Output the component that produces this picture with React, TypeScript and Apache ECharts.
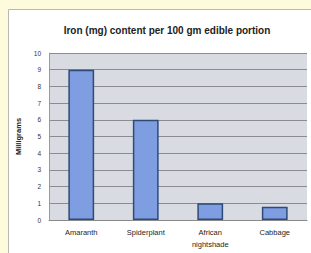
import React, { useEffect, useRef } from "react";
import * as echarts from "echarts";

const categories = ["Amaranth", "Spiderplant", "African\nnightshade", "Cabbage"];
const ironValues = [9.0, 6.0, 1.0, 0.8];
const titleText = "Iron (mg) content per 100 gm edible portion";
const yAxisName = "Milligrams";

export default function App() {
  const ref = useRef<HTMLDivElement>(null);
  useEffect(() => {
    if (!ref.current) return;
    const chart = echarts.init(ref.current, null, { renderer: "svg" });
    chart.setOption({
      animation: false,
      backgroundColor: "#fdfbdc",
      graphic: [
        {
          type: "rect",
          z: -10,
          shape: { x: 8.5, y: 9.5, width: 310, height: 250 },
          style: { fill: "#ffffff", stroke: "#b8b8b8", lineWidth: 1 },
        },
      ],
      title: {
        text: titleText,
        left: 162,
        textAlign: "center",
        top: 20,
        textStyle: { fontFamily: "Liberation Sans", fontSize: 10, fontWeight: "bold", color: "#222" },
      },
      grid: { left: 49, right: 4, top: 53, bottom: 33, show: true, backgroundColor: "#d9dbe3", borderWidth: 0 },
      xAxis: {
        type: "category",
        data: categories,
        axisTick: { show: false },
        axisLine: { show: true, lineStyle: { color: "#8a8a8a" } },
        axisLabel: { fontFamily: "Liberation Sans", fontSize: 7.5, color: "#1e1e1e", margin: 6, lineHeight: 12 },
      },
      yAxis: {
        type: "value",
        min: 0,
        max: 10,
        interval: 1,
        name: yAxisName,
        nameLocation: "middle",
        nameGap: 21,
        nameTextStyle: { fontFamily: "Liberation Sans", fontSize: 7.5, fontWeight: "bold", color: "#222" },
        axisLine: { show: true, lineStyle: { color: "#9a9a9a" } },
        axisTick: { show: false },
        axisLabel: { fontFamily: "Liberation Sans", fontSize: 6.5, color: "#333", margin: 8 },
        splitLine: { show: true, lineStyle: { color: "#8c8c90", width: 1 } },
      },
      series: [
        {
          type: "bar",
          data: ironValues,
          barWidth: "40%",
          itemStyle: { color: "#7f9ee2", borderColor: "#2e4a78", borderWidth: 1.5 },
        },
      ],
    });
    return () => chart.dispose();
  }, []);
  return <div ref={ref} style={{ position: "fixed", left: 0, top: 0, width: 311, height: 253 }} />;
}
